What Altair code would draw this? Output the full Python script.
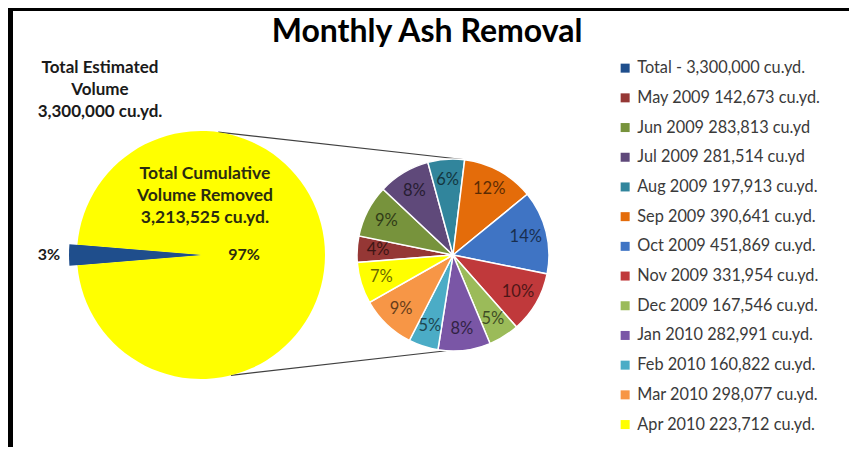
import math
import altair as alt
import pandas as pd

# ---------------- data ----------------
months = ["May 2009", "Jun 2009", "Jul 2009", "Aug 2009", "Sep 2009", "Oct 2009",
          "Nov 2009", "Dec 2009", "Jan 2010", "Feb 2010", "Mar 2010", "Apr 2010"]
volumes = [142673, 283813, 281514, 197913, 390641, 451869,
           331954, 167546, 282991, 160822, 298077, 223712]
units = ["cu.yd.", "cu.yd", "cu.yd", "cu.yd.", "cu.yd.", "cu.yd.",
         "cu.yd.", "cu.yd.", "cu.yd.", "cu.yd.", "cu.yd.", "cu.yd."]
pct_labels = ["4%", "9%", "8%", "6%", "12%", "14%", "10%", "5%", "8%", "5%", "9%", "7%"]
month_colors = ["#953735", "#77933C", "#5F497A", "#31859C", "#E46C0A", "#3F74C4",
                "#C0393B", "#9BBB59", "#7A56A6", "#4BACC6", "#F79646", "#FFFF00"]

total_estimated = 3300000
removed = sum(volumes)  # 3,213,525
total_label = "Total - 3,300,000 cu.yd."
main_parts = ["Remaining", "Removed"]
main_values = [total_estimated - removed, removed]
main_pct = ["3%", "97%"]
main_colors = ["#1F4E8C", "#FFFF00"]

title_text = "Monthly Ash Removal"
est_text = ["Total Estimated", "Volume", "3,300,000 cu.yd."]
cum_text = ["Total Cumulative", "Volume Removed", "3,213,525 cu.yd."]

# ---------------- layout ----------------
W, H = 841, 439
FONT = "Lato"
cx1, cy1, r1, r1x = 193, 247, 124, 132     # main pie
cx2, cy2, r2 = 445, 247, 96                 # detail pie
TWO_PI = 2 * math.pi
blue_share = main_values[0] / total_estimated
s1 = 1.5 * math.pi - blue_share * math.pi   # blue wedge centred on 9 o'clock
s2 = math.radians(265.5)

legend_labels = [f"{m} {v:,} {u}" for m, v, u in zip(months, volumes, units)]
dom = [total_label] + legend_labels
rng = [main_colors[0]] + month_colors

df1 = pd.DataFrame({"part": main_parts, "value": main_values, "fill": main_colors,
                    "pct": main_pct, "idx": [0, 1]})
df2 = pd.DataFrame({"label": legend_labels, "value": volumes, "pct": pct_labels,
                    "idx": list(range(len(volumes)))})

one = alt.Data(values=[{"a": 1}])

# ---------------- main pie ----------------
theta1 = alt.Theta("value:Q", stack=True, scale=alt.Scale(range=[s1, s1 + TWO_PI]))
base1 = alt.Chart(df1).encode(theta=theta1, order=alt.Order("idx:Q"),
                               x=alt.value(cx1), y=alt.value(cy1))
arc1a = base1.mark_arc(outerRadius=r1).encode(fill=alt.Fill("fill:N", scale=None))
arc1b = base1.mark_arc(outerRadius=r1x).encode(
    fill=alt.Fill("fill:N", scale=None),
    opacity=alt.condition(alt.datum.idx == 0, alt.value(1), alt.value(0)))
lab1a = base1.mark_text(radius=152, font=FONT, fontSize=16, fontWeight="bold",
                        color="#1a1a1a").encode(
    text="pct:N", detail="part:N",
    opacity=alt.condition(alt.datum.idx == 0, alt.value(1), alt.value(0)))
lab1b = base1.mark_text(radius=43, font=FONT, fontSize=16, fontWeight="bold",
                        color="#2b2b10").encode(
    text="pct:N", detail="part:N",
    opacity=alt.condition(alt.datum.idx == 1, alt.value(1), alt.value(0)))
pie1 = alt.layer(arc1a, arc1b, lab1a, lab1b)

# ---------------- detail pie ----------------
theta2 = alt.Theta("value:Q", stack=True, scale=alt.Scale(range=[s2, s2 + TWO_PI]))
base2 = alt.Chart(df2).encode(theta=theta2, order=alt.Order("idx:Q"),
                               x=alt.value(cx2), y=alt.value(cy2))
arc2 = base2.mark_arc(outerRadius=r2, stroke="white", strokeWidth=1.5).encode(
    color=alt.Color("label:N", scale=alt.Scale(domain=dom, range=rng),
                    legend=alt.Legend(orient="none", legendX=609, legendY=52,
                                      title=None, symbolType="square", symbolSize=81,
                                      symbolStrokeWidth=0, labelFont=FONT,
                                      labelFontSize=16.3, labelColor="#3a3a3a",
                                      labelLimit=0, labelOffset=4, rowPadding=12.7,
                                      padding=0)))
lab2 = base2.mark_text(radius=75, font=FONT, fontSize=16.5, color="black",
                       opacity=0.6).encode(text="pct:N", detail="label:N")
pie2 = alt.layer(arc2, lab2)

# ---------------- connector lines ----------------
def pt(cx, cy, r, deg):
    a = math.radians(deg)
    return cx + r * math.sin(a), cy - r * math.cos(a)

t1 = pt(cx1, cy1, r1, 8)
t2 = pt(cx2, cy2, r2, 6)
b1 = pt(cx1, cy1, r1, 166)
b2 = pt(cx2, cy2, r2, 184)
conn_top = alt.Chart(one).mark_rule(color="#404040", strokeWidth=1.2).encode(
    x=alt.value(t1[0]), y=alt.value(t1[1]), x2=alt.value(t2[0]), y2=alt.value(t2[1]))
conn_bot = alt.Chart(one).mark_rule(color="#404040", strokeWidth=1.2).encode(
    x=alt.value(b1[0]), y=alt.value(b1[1]), x2=alt.value(b2[0]), y2=alt.value(b2[1]))

# ---------------- texts ----------------
title = alt.Chart(one).mark_text(text=title_text, font=FONT, fontSize=32,
                                 fontWeight="bold", color="black",
                                 baseline="alphabetic").encode(
    x=alt.value(419), y=alt.value(34))
est = alt.Chart(one).mark_text(text=est_text, font=FONT, fontSize=17,
                               fontWeight="bold", color="#1a1a1a", lineHeight=22,
                               baseline="middle").encode(
    x=alt.value(92), y=alt.value(60))
cum = alt.Chart(one).mark_text(text=cum_text, font=FONT, fontSize=17.5,
                               fontWeight="bold", color="#2b2b10", lineHeight=22,
                               baseline="middle").encode(
    x=alt.value(197), y=alt.value(166))

# ---------------- frame ----------------
top_bar = alt.Chart(one).mark_rect(color="black").encode(
    x=alt.value(0), x2=alt.value(W), y=alt.value(0), y2=alt.value(3))
left_bar = alt.Chart(one).mark_rect(color="black").encode(
    x=alt.value(0), x2=alt.value(5), y=alt.value(0), y2=alt.value(H))

chart = alt.layer(
    conn_top, conn_bot, pie1, pie2, title, est, cum, top_bar, left_bar
).resolve_scale(theta="independent").properties(
    width=W, height=H, autosize=alt.AutoSizeParams(type="none"), padding=0,
    background="white"
).configure_view(stroke=None)

chart.save("out.html", embed_options={"renderer": "svg", "actions": False})
